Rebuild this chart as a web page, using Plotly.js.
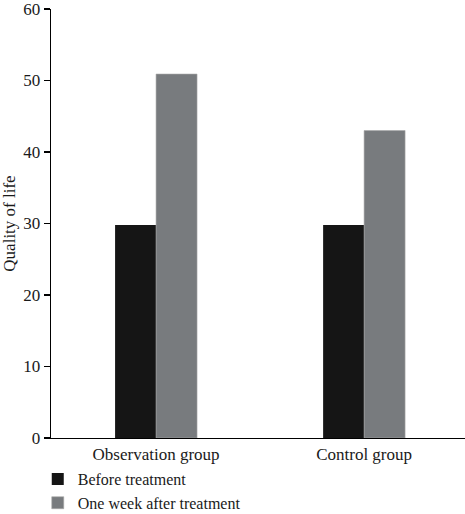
<!DOCTYPE html>
<html>
<head>
<meta charset="utf-8">
<script src="https://cdn.plot.ly/plotly-3.0.1.min.js"></script>
<style>html,body{margin:0;padding:0;background:#fff;}#chart{width:465px;height:514px;}</style>
</head>
<body>
<div id="chart"></div>
<script>
var categories = ["Observation group", "Control group"];
var beforeTreatment = [29.8, 29.8];
var oneWeekAfter = [50.9, 43.0];
var seriesNames = ["Before treatment", "One week after treatment"];
var yTicks = [0, 10, 20, 30, 40, 50, 60];

var FONT = "Liberation Serif, Times New Roman, serif";

var traces = [
  {type: "bar", name: seriesNames[0], x: categories, y: beforeTreatment,
   marker: {color: "#151515", line: {width: 0}}},
  {type: "bar", name: seriesNames[1], x: categories, y: oneWeekAfter,
   marker: {color: "#787b7e", line: {color: "#a8a8a8", width: 0.6}}}
];

var layout = {
  width: 465, height: 514,
  margin: {l: 51, r: 0, t: 9, b: 76, autoexpand: false},
  paper_bgcolor: "#fff", plot_bgcolor: "#fff",
  font: {family: FONT, size: 17, color: "#1a1a1a"},
  barmode: "group",
  bargap: 0.606,
  bargroupgap: 0,
  showlegend: true,
  legend: {x: -0.032, xanchor: "left", y: -0.056, yanchor: "top",
           orientation: "v", font: {family: FONT, size: 16, color: "#1a1a1a"},
           bgcolor: "rgba(0,0,0,0)", tracegroupgap: 0, itemclick: false},
  xaxis: {type: "category", range: [-0.505, 1.485], showline: true, linecolor: "#000", linewidth: 1.3,
          ticks: "", showgrid: false, zeroline: false, fixedrange: true, automargin: false,
          tickfont: {family: FONT, size: 17, color: "#1a1a1a"}},
  yaxis: {range: [0, 60.001], tickvals: yTicks, ticktext: yTicks.map(String),
          showline: true, linecolor: "#000", linewidth: 1.3,
          ticks: "outside", ticklen: 6, tickwidth: 1.2, tickcolor: "#000",
          ticklabeloverflow: "allow",
          showgrid: false, zeroline: false, fixedrange: true, automargin: false,
          tickfont: {family: FONT, size: 17, color: "#1a1a1a"},
          title: {text: "Quality of life", standoff: 8, font: {family: FONT, size: 17, color: "#1a1a1a"}}}
};

Plotly.newPlot("chart", traces, layout, {displayModeBar: false, staticPlot: true});
</script>
</body>
</html>
